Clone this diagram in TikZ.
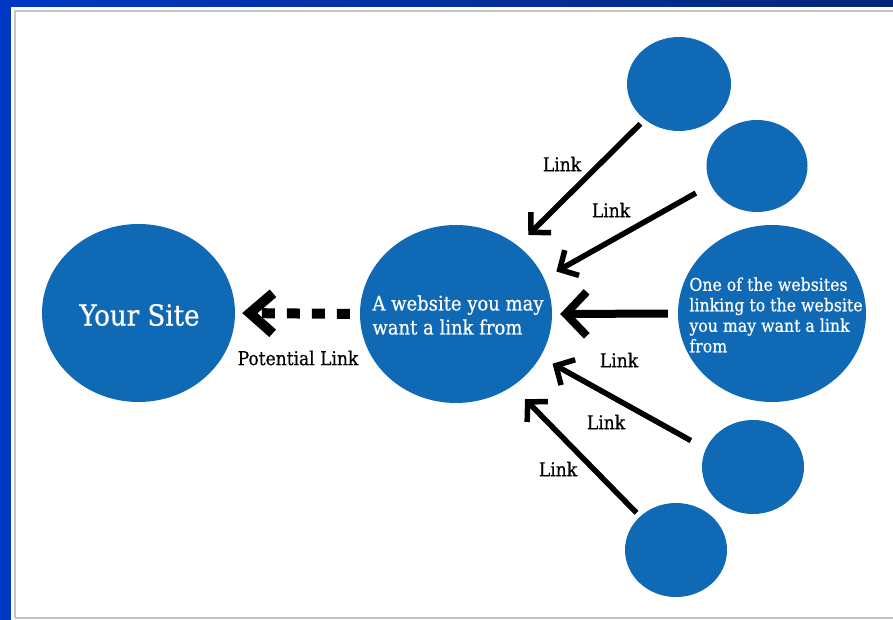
\documentclass[tikz,border=0pt]{standalone}
\usepackage{fontspec}
\setmainfont{DejaVu Serif Condensed}[FakeBold=0.6]
\usetikzlibrary{shapes.geometric,arrows.meta}
\definecolor{siteblue}{RGB}{15,105,180}
\definecolor{slideA}{RGB}{0,56,196}
\definecolor{slideB}{RGB}{8,38,120}
\definecolor{frame}{RGB}{196,196,196}
\tikzset{
  bubble/.style={ellipse,fill=siteblue,draw=none,inner sep=0pt},
  intext/.style={text=white,inner sep=0pt,align=left},
  lbl/.style={text=black,font=\fontsize{19}{22}\selectfont,inner sep=0pt},
  linkarrow/.style={line width=5.5pt,-{Straight Barb[sharp,length=14pt,width=29pt,line width=5.5pt]}},
  mainarrow/.style={line width=8pt,-{Straight Barb[sharp,length=21pt,width=44pt,line width=8pt]}},
  potarrow/.style={line width=10pt,dash pattern=on 13pt off 12pt,-{Straight Barb[sharp,length=23pt,width=40pt,line width=10pt]}}
}
\begin{document}
\begin{tikzpicture}[x=1pt,y=-1pt]
\useasboundingbox (0,0) rectangle (893,620);
\shade[left color=slideA,right color=slideB] (0,0) rectangle (893,620);
\fill[white] (11,7) rectangle (893,620);
\draw[frame,line width=2pt] (15,618) -- (15,11) -- (893,11);
\draw[frame,line width=2pt] (15,618) -- (893,618);
% circles
\node[bubble,minimum width=193pt,minimum height=178pt] (ys) at (138.5,313) {};
\node[bubble,minimum width=192pt,minimum height=178pt] (m) at (456,314) {};
\node[bubble,minimum width=188pt,minimum height=177pt] (b) at (772,313.5) {};
\node[bubble,minimum width=104pt,minimum height=94pt] (s1) at (679,84) {};
\node[bubble,minimum width=101pt,minimum height=92pt] (s2) at (757,166) {};
\node[bubble,minimum width=102pt,minimum height=94pt] (s4) at (753,467) {};
\node[bubble,minimum width=102pt,minimum height=94pt] (s5) at (676,550) {};
% texts in circles
\node[intext,font=\fontsize{29}{32}\selectfont] (tys) at (139.5,315) {Your Site};
\node[intext,font=\fontsize{20}{24}\selectfont] (tm) at (458,315) {A website you may\\want a link from};
\node[intext,font=\fontsize{17.5}{20.5}\selectfont] (tb) at (776,315) {One of the websites\\linking to the website\\you may want a link\\from};
% arrows
\draw[linkarrow,shorten <=6pt,shorten >=15pt] (s1.226.5) -- (m.48);
\draw[linkarrow,shorten <=17pt,shorten >=14pt] (s2.202) -- (m.22.4);
\draw[mainarrow,shorten <=10pt,shorten >=8pt] (b.west) -- (m.east);
\draw[linkarrow,shorten <=17pt,shorten >=14pt] (s4.159.1) -- (m.333.4);
\draw[linkarrow,shorten <=5pt,shorten >=18pt] (s5.137.2) -- (m.308);
\draw[potarrow,shorten <=10pt,shorten >=7pt] (m.west) -- (ys.east);
% labels
\node[lbl] (l1) at (562,164) {Link};
\node[lbl] (l2) at (611,210) {Link};
\node[lbl] (l3) at (619,360) {Link};
\node[lbl] (l4) at (606,422) {Link};
\node[lbl] (l5) at (558,469) {Link};
\node[lbl] (lp) at (298,358) {Potential Link};
\end{tikzpicture}
\end{document}
